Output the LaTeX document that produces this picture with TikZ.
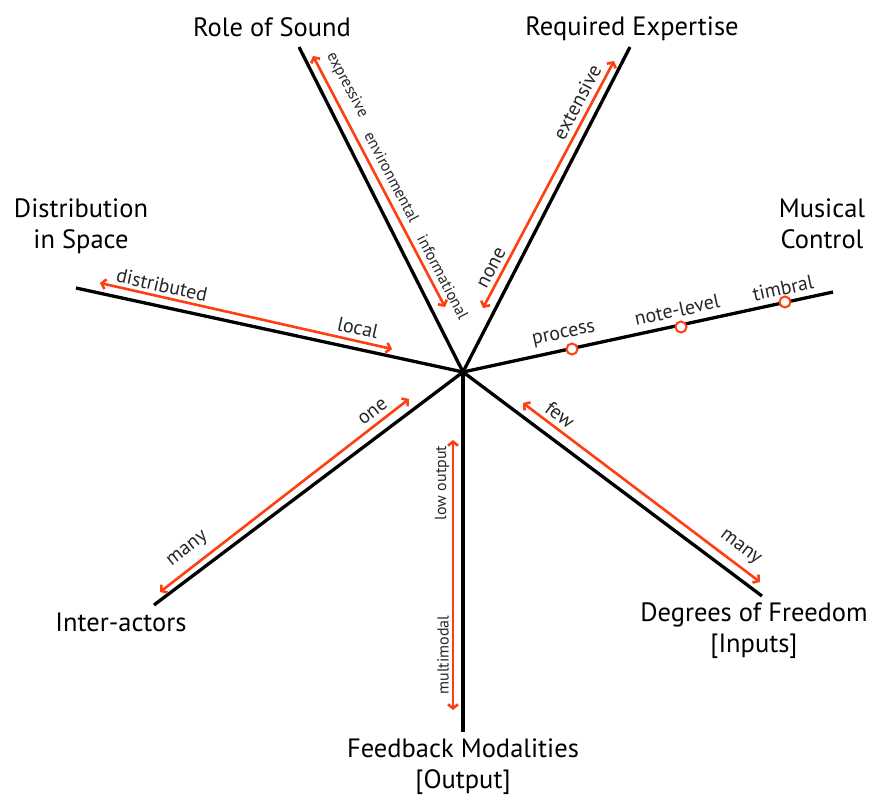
\documentclass[tikz,border=0pt]{standalone}
\usepackage{fontspec}
\setmainfont{PT Sans}
\usetikzlibrary{arrows.meta}
\definecolor{axred}{RGB}{255,62,18}
\tikzset{
  axisline/.style={line width=3.3pt, black},
  rangearrow/.style={line width=2.6pt, axred,
    {Straight Barb[length=4pt,width=10pt]}-{Straight Barb[length=4pt,width=10pt]}},
  title/.style={font=\fontsize{26.5}{31}\selectfont, align=center, inner sep=0pt},
  lab/.style={font=\fontsize{20}{23}\selectfont, inner sep=0pt, text=black!85},
  slab/.style={font=\fontsize{16}{19}\selectfont, inner sep=0pt, text=black!85},
  levelpt/.style={circle, draw=axred, fill=white, line width=2pt, minimum size=11pt, inner sep=0pt},
}
\begin{document}
\begin{tikzpicture}[x=1pt,y=-1pt]
\useasboundingbox (0,0) rectangle (871,796);
\coordinate (c) at (463,372);
% axis ends
\coordinate (sound) at (299,47);
\coordinate (expert) at (630,47);
\coordinate (music) at (833,292);
\coordinate (dof) at (762,596);
\coordinate (feed) at (463,732);
\coordinate (inter) at (154,605);
\coordinate (dist) at (76,288);
% axes
\foreach \e in {sound,expert,music,dof,feed,inter,dist}
  \draw[axisline] (c) -- (\e);
% range arrow end points
\coordinate (s1) at (313,56);  \coordinate (s2) at (445,307);
\coordinate (e1) at (483,308); \coordinate (e2) at (614,61);
\coordinate (d1) at (100,283); \coordinate (d2) at (392,349);
\coordinate (f1) at (523,403); \coordinate (f2) at (760,582);
\coordinate (i1) at (160,592); \coordinate (i2) at (409,399);
\coordinate (o1) at (453,440); \coordinate (o2) at (453,710);
\draw[rangearrow] (s1) -- (s2);
\draw[rangearrow] (e1) -- (e2);
\draw[rangearrow] (d1) -- (d2);
\draw[rangearrow] (f1) -- (f2);
\draw[rangearrow] (i1) -- (i2);
\draw[rangearrow] (o1) -- (o2);
% musical control levels
\node[levelpt] (p1) at (572,349) {};
\node[levelpt] (p2) at (681,327) {};
\node[levelpt] (p3) at (785,302) {};
% range labels
\node[slab, rotate=-62.3] (lexp) at (347,85) {expressive};
\node[slab, rotate=-62.3] (lenv) at (392,177) {environmental};
\node[slab, rotate=-62.3] (linf) at (443,277) {informational};
\node[lab, rotate=62.1] (lext) at (577,102) {extensive};
\node[lab, rotate=62.1] (lnone) at (492,268) {none};
\node[lab, rotate=-12.7] (ldist) at (162,285) {distributed};
\node[lab, rotate=-12.7] (lloc) at (358,328) {local};
\node[lab, rotate=12.2] (lproc) at (564,335) {process};
\node[lab, rotate=12.2] (lnote) at (677,310) {note-level};
\node[lab, rotate=12.2] (ltim) at (783,288) {timbral};
\node[lab, rotate=-37.1] (lfew) at (560,415) {few};
\node[lab, rotate=-37.1] (lmany1) at (740,548) {many};
\node[lab, rotate=37.8] (lone) at (373,412) {one};
\node[lab, rotate=37.8] (lmany2) at (188,550) {many};
\node[slab, rotate=90] (llow) at (442,483) {low output};
\node[slab, rotate=90] (lmulti) at (443,655) {multimodal};
% titles
\node[title] (tsound) at (272,27) {Role of Sound};
\node[title] (texpert) at (632,29) {Required Expertise};
\node[title] (tdist) at (81,226) {Distribution\\in Space};
\node[title] (tmusic) at (822,224) {Musical\\Control};
\node[title] (tinter) at (121,622) {Inter-actors};
\node[title] (tdof) at (754,631) {Degrees of Freedom\\{[Inputs]}};
\node[title] (tfeed) at (463,767) {Feedback Modalities\\{[Output]}};
\end{tikzpicture}
\end{document}
